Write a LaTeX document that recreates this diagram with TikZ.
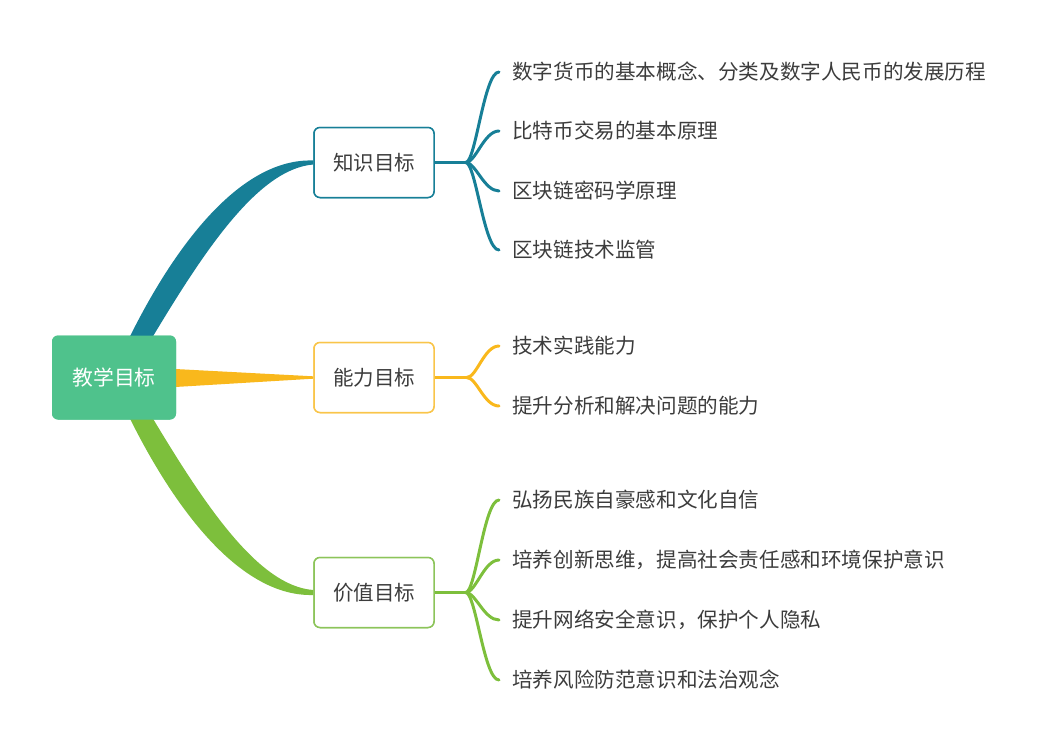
\documentclass[tikz,border=0pt]{standalone}
\usepackage{fontspec}
\setmainfont{Noto Sans CJK SC}
\usetikzlibrary{calc}
\definecolor{rootc}{HTML}{4FC28C}
\definecolor{tealc}{HTML}{177F97}
\definecolor{yelc}{HTML}{F9B81C}
\definecolor{yelbox}{HTML}{F9C54A}
\definecolor{grnc}{HTML}{7DBF3C}
\definecolor{grnbox}{HTML}{8CC45A}
\definecolor{txtc}{HTML}{3C3C3C}
\tikzset{
  rootbox/.style={fill=rootc, rounded corners=6pt, minimum width=124pt, minimum height=84pt, inner sep=0pt, text=white, font=\fontsize{20.8}{24}\selectfont},
  midbox/.style={fill=white, draw=#1, line width=1.5pt, rounded corners=6pt, minimum width=120pt, minimum height=70pt, inner sep=0pt, text=txtc, font=\fontsize{20.5}{24}\selectfont},
  leaf/.style={anchor=west, inner sep=0pt, text=txtc, font=\fontsize{20.6}{24}\selectfont},
  twig/.style={draw=#1, line width=3pt, line cap=round}
}
\begin{document}
\begin{tikzpicture}[x=1pt,y=-1pt]
\useasboundingbox (0,0) rectangle (1055,755);

% nodes
\node[rootbox] (root) at (114,377.5) {教学目标};
\node[midbox=tealc] (k) at (374,162.5) {知识目标};
\node[midbox=yelbox] (n) at (374,377.5) {能力目标};
\node[midbox=grnbox] (v) at (374,592.5) {价值目标};

\node[leaf] (k1) at (512,72) {数字货币的基本概念、分类及数字人民币的发展历程};
\node[leaf] (k2) at (512,131) {比特币交易的基本原理};
\node[leaf] (k3) at (512,191) {区块链密码学原理};
\node[leaf] (k4) at (512,250) {区块链技术监管};

\node[leaf] (n1) at (512,346) {技术实践能力};
\node[leaf] (n2) at (512,406) {提升分析和解决问题的能力};

\node[leaf] (v1) at (512,500) {弘扬民族自豪感和文化自信};
\node[leaf] (v2) at (512,560) {培养创新思维，提高社会责任感和环境保护意识};
\node[leaf] (v3) at (512,620) {提升网络安全意识，保护个人隐私};
\node[leaf] (v4) at (512,680) {培养风险防范意识和法治观念};

% main branches (tapered)
\fill[tealc] ($(root.north)+(16,1)$) .. controls (177,242) and (242,158) .. ($(k.west)+(0,-2)$)
  -- ($(k.west)+(0,2)$) .. controls (259,169) and (206,248) .. ($(root.north)+(39,1)$) -- cycle;
\fill[grnc] ($(root.south)+(16,-1)$) .. controls (177,513) and (242,597) .. ($(v.west)+(0,2.5)$)
  -- ($(v.west)+(0,-2.5)$) .. controls (259,586) and (206,507) .. ($(root.south)+(39,-1)$) -- cycle;
\fill[yelc] ($(root.east)+(-1,-8.5)$) -- ($(n.west)+(0,-1.2)$) -- ($(n.west)+(0,1.2)$) -- ($(root.east)+(-1,9.5)$) -- cycle;

% junctions
\coordinate (kj) at ($(k.east)+(31,0)$);
\coordinate (nj) at ($(n.east)+(32,0)$);
\coordinate (vj) at ($(v.east)+(31,0)$);

% teal twigs
\draw[twig=tealc] (k.east) -- (kj);
\foreach \l in {k1,k2,k3,k4}{
  \draw[twig=tealc] (kj) .. controls +(10,0) and ($(\l.west)+(-28,0)$) .. ($(\l.west)+(-13,0)$);
}
% yellow twigs
\draw[twig=yelc] (n.east) -- (nj);
\foreach \l in {n1,n2}{
  \draw[twig=yelc] (nj) .. controls +(10,0) and ($(\l.west)+(-28,0)$) .. ($(\l.west)+(-13,0)$);
}
% green twigs
\draw[twig=grnc] (v.east) -- (vj);
\foreach \l in {v1,v2,v3,v4}{
  \draw[twig=grnc] (vj) .. controls +(10,0) and ($(\l.west)+(-28,0)$) .. ($(\l.west)+(-13,0)$);
}

% redraw boxes on top
\node[rootbox] at (root) {教学目标};
\node[midbox=tealc] at (k) {知识目标};
\node[midbox=yelbox] at (n) {能力目标};
\node[midbox=grnbox] at (v) {价值目标};
\end{tikzpicture}
\end{document}
